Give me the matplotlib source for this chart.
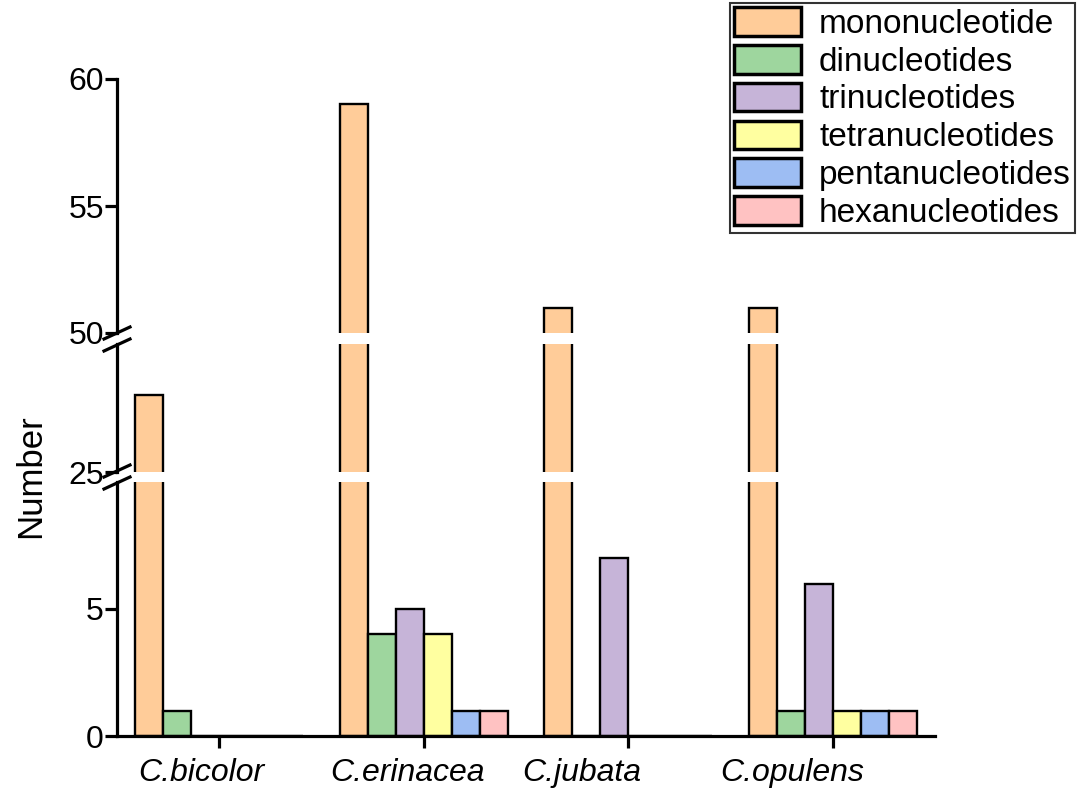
import numpy as np
import matplotlib
matplotlib.use("Agg")
import matplotlib.pyplot as plt
import matplotlib.transforms as mtransforms
from matplotlib.lines import Line2D

plt.rcParams['font.family'] = ['Liberation Sans', 'DejaVu Sans']

# data
species = ["C.bicolor", "C.erinacea", "C.jubata", "C.opulens"]
series_names = ["mononucleotide", "dinucleotides", "trinucleotides",
                "tetranucleotides", "pentanucleotides", "hexanucleotides"]
mono = [40, 59, 51, 51]
di = [1, 4, 0, 1]
tri = [0, 5, 7, 6]
tetra = [0, 4, 0, 1]
penta = [0, 1, 0, 1]
hexa = [0, 1, 0, 1]
values = [mono, di, tri, tetra, penta, hexa]
colors = ["#FFCC99", "#9ED69E", "#C6B4D8", "#FFFFA0", "#9DBDF3", "#FFC2C2"]

# category labels sit a little left of their ticks in the original
label_shift_px = [-18, -16, -47, -41]

W, H = 1091, 790
fig = plt.figure(figsize=(W / 100, H / 100), dpi=100)

def px_rect(left, top, right, bottom):
    return [left / W, 1 - bottom / H, (right - left) / W, (bottom - top) / H]

ax_top = fig.add_axes(px_rect(117, 79, 935, 333))
ax_mid = fig.add_axes(px_rect(117, 344, 935, 472))
ax_bot = fig.add_axes(px_rect(117, 482, 935, 736))

x = np.arange(len(species))
w = 0.137
spine_w = 2.3
for ax in (ax_top, ax_mid, ax_bot):
    for i, (vals, c, name) in enumerate(zip(values, colors, series_names)):
        ax.bar(x + (i - 2.5) * w, vals, width=w, color=c, edgecolor='black',
               linewidth=1.7, label=name)
    ax.set_xlim(-0.5, 3.5)
    for s in ('top', 'right'):
        ax.spines[s].set_visible(False)
    ax.spines['left'].set_linewidth(spine_w)
    ax.spines['bottom'].set_linewidth(spine_w)
    ax.tick_params(axis='y', length=8.5, width=spine_w, labelsize=23, pad=1)
    ax.tick_params(axis='x', length=8.5, width=spine_w, labelsize=23, pad=7)
    ax.patch.set_visible(False)

ax_top.set_ylim(50, 60)
ax_top.set_yticks([50, 55, 60])
ax_mid.set_ylim(25, 50)
ax_mid.set_yticks([25])
ax_bot.set_ylim(0, 10)
ax_bot.set_yticks([0, 5])

for ax in (ax_top, ax_mid):
    ax.spines['bottom'].set_visible(False)
    ax.set_xticks([])

ax_bot.set_xticks(x)
ax_bot.set_xticklabels(species, style='italic')
for lbl, dx in zip(ax_bot.get_xticklabels(), label_shift_px):
    lbl.set_transform(lbl.get_transform() +
                      mtransforms.ScaledTranslation(dx / 100, 0, fig.dpi_scale_trans))

fig.text(31 / W, 1 - 476 / H, "Number", rotation=90, fontsize=25,
         ha='center', va='center')

# axis break marks
def brk(xc, yc):
    fig.add_artist(Line2D([(xc - 13) / W, (xc + 13) / W],
                          [1 - (yc + 6) / H, 1 - (yc - 6) / H],
                          color='black', linewidth=2.3))

for yc in (333, 345, 471, 483):
    brk(117, yc)

handles, labels = ax_bot.get_legend_handles_labels()
leg = fig.legend(handles, labels, loc='upper left',
                 bbox_to_anchor=(730 / W, 1 - 3 / H), fontsize=24,
                 handlelength=2.0, handleheight=0.95, handletextpad=0.55,
                 labelspacing=0.15, borderpad=0.12, borderaxespad=0,
                 frameon=True, fancybox=False, framealpha=1)
leg.get_frame().set_edgecolor('#333333')
leg.get_frame().set_linewidth(1.5)
for p in leg.get_patches():
    p.set_linewidth(2.5)

fig.savefig("out.png", dpi=100)
